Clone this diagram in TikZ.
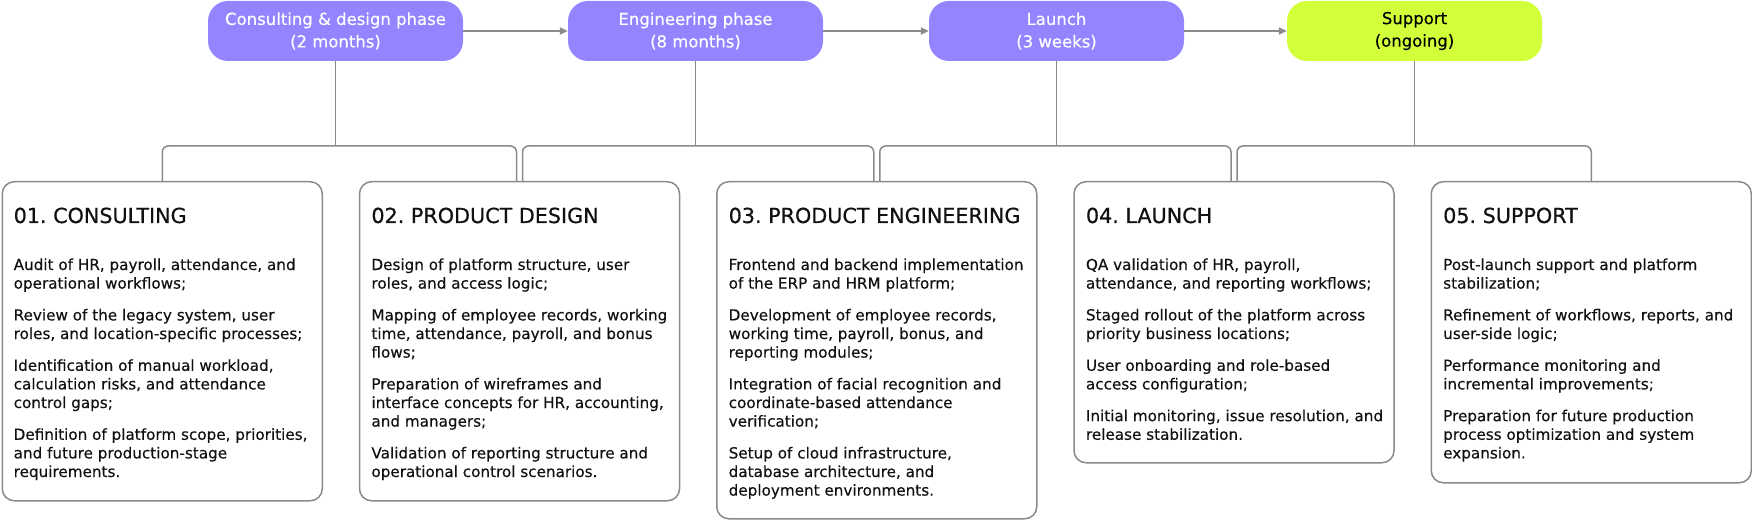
\documentclass[tikz,border=0pt]{standalone}
\usepackage{fontspec}
\setmainfont{DejaVu Sans}[FakeBold=0.3]
\newfontfamily\titlefont{DejaVu Sans}[FakeBold=0.6]
\usetikzlibrary{arrows.meta}
\definecolor{phasecol}{HTML}{9484FF}
\definecolor{limecol}{HTML}{D1FF3A}
\definecolor{linecol}{HTML}{8A8A8A}
\definecolor{inkcol}{HTML}{111111}
\frenchspacing
\newcommand\cardtxt[1]{\parbox[t]{330pt}{\fontsize{15.2}{18.6}\selectfont\frenchspacing\raggedright\setlength{\parskip}{13.2pt}\setlength{\parindent}{0pt}#1}}
\begin{document}
\begin{tikzpicture}[x=1pt,y=-1pt,
  phasebox/.style={rounded corners=20pt, minimum width=255pt, minimum height=60pt, inner sep=0pt, align=center, font=\fontsize{16.5}{22.5}\selectfont, fill=phasecol, text=white},
  card/.style={draw=linecol, line width=1.5pt, rounded corners=12pt, minimum width=320pt, inner sep=0pt, anchor=north west, fill=white},
  cardtitle/.style={anchor=base west, inner sep=0pt, text=inkcol, font=\titlefont\fontsize{20.7}{24}\selectfont\frenchspacing},
  cardbody/.style={anchor=base west, inner sep=0pt, text=inkcol},
  conn/.style={draw=linecol, line width=1.5pt},
  flow/.style={conn, -{Triangle[length=8pt,width=7pt]}},
]
\useasboundingbox (0,0) rectangle (1752,521);

% phase boxes
\node[phasebox] (p1) at (335.5,31) {Consulting \& design phase\\(2 months)};
\node[phasebox] (p2) at (695.5,31) {Engineering phase\\(8 months)};
\node[phasebox] (p3) at (1056.5,31) {Launch\\(3 weeks)};
\node[phasebox, fill=limecol, text=black] (p4) at (1414.5,31) {Support\\(ongoing)};

\draw[flow] (p1.east) -- (p2.west);
\draw[flow] (p2.east) -- (p3.west);
\draw[flow] (p3.east) -- (p4.west);

% cards
\node[card, minimum height=319pt] (c1) at (1.5,181) {};
\node[card, minimum height=319pt] (c2) at (358.75,181) {};
\node[card, minimum height=337pt] (c3) at (716,181) {};
\node[card, minimum height=281pt] (c4) at (1073.25,181) {};
\node[card, minimum height=301pt] (c5) at (1430.5,181) {};

% connectors
\coordinate (bar) at (0,146);
\coordinate (c2l) at ([xshift=-3pt]c2.north);
\coordinate (c2r) at ([xshift=3pt]c2.north);
\coordinate (c3l) at ([xshift=-3pt]c3.north);
\coordinate (c3r) at ([xshift=3pt]c3.north);
\coordinate (c4l) at ([xshift=-3pt]c4.north);
\coordinate (c4r) at ([xshift=3pt]c4.north);
\draw[conn] (p1.south) -- (p1.south |- bar);
\draw[conn] (p2.south) -- (p2.south |- bar);
\draw[conn] (p3.south) -- (p3.south |- bar);
\draw[conn] (p4.south) -- (p4.south |- bar);
\draw[conn, rounded corners=6pt] (c1.north) |- (c2l |- bar) -- (c2l);
\draw[conn, rounded corners=6pt] (c2r) |- (c3l |- bar) -- (c3l);
\draw[conn, rounded corners=6pt] (c3r) |- (c4l |- bar) -- (c4l);
\draw[conn, rounded corners=6pt] (c4r) |- (c5.north |- bar) -- (c5.north);

% card texts
\node[cardtitle] (t1) at ([xshift=12pt,yshift=-42pt]c1.north west) {01. CONSULTING};
\node[cardbody] (b1) at ([xshift=12pt,yshift=-89pt]c1.north west) {\cardtxt{%
Audit of HR, payroll, attendance, and\\ operational workflows;\par
Review of the legacy system, user\\ roles, and location-specific processes;\par
Identification of manual workload,\\ calculation risks, and attendance\\ control gaps;\par
Definition of platform scope, priorities,\\ and future production-stage\\ requirements.}};

\node[cardtitle] (t2) at ([xshift=12.5pt,yshift=-42pt]c2.north west) {02. PRODUCT DESIGN};
\node[cardbody] (b2) at ([xshift=12.5pt,yshift=-89pt]c2.north west) {\cardtxt{%
Design of platform structure, user\\ roles, and access logic;\par
Mapping of employee records, working\\ time, attendance, payroll, and bonus\\ flows;\par
Preparation of wireframes and\\ interface concepts for HR, accounting,\\ and managers;\par
Validation of reporting structure and\\ operational control scenarios.}};

\node[cardtitle] (t3) at ([xshift=12.5pt,yshift=-42pt]c3.north west) {03. PRODUCT ENGINEERING};
\node[cardbody] (b3) at ([xshift=12.5pt,yshift=-89pt]c3.north west) {\cardtxt{%
Frontend and backend implementation\\ of the ERP and HRM platform;\par
Development of employee records,\\ working time, payroll, bonus, and\\ reporting modules;\par
Integration of facial recognition and\\ coordinate-based attendance\\ verification;\par
Setup of cloud infrastructure,\\ database architecture, and\\ deployment environments.}};

\node[cardtitle] (t4) at ([xshift=12.5pt,yshift=-42pt]c4.north west) {04. LAUNCH};
\node[cardbody] (b4) at ([xshift=12.5pt,yshift=-89pt]c4.north west) {\cardtxt{%
QA validation of HR, payroll,\\ attendance, and reporting workflows;\par
Staged rollout of the platform across\\ priority business locations;\par
User onboarding and role-based\\ access configuration;\par
Initial monitoring, issue resolution, and\\ release stabilization.}};

\node[cardtitle] (t5) at ([xshift=12.5pt,yshift=-42pt]c5.north west) {05. SUPPORT};
\node[cardbody] (b5) at ([xshift=12.5pt,yshift=-89pt]c5.north west) {\cardtxt{%
Post-launch support and platform\\ stabilization;\par
Refinement of workflows, reports, and\\ user-side logic;\par
Performance monitoring and\\ incremental improvements;\par
Preparation for future production\\ process optimization and system\\ expansion.}};
\end{tikzpicture}
\end{document}
